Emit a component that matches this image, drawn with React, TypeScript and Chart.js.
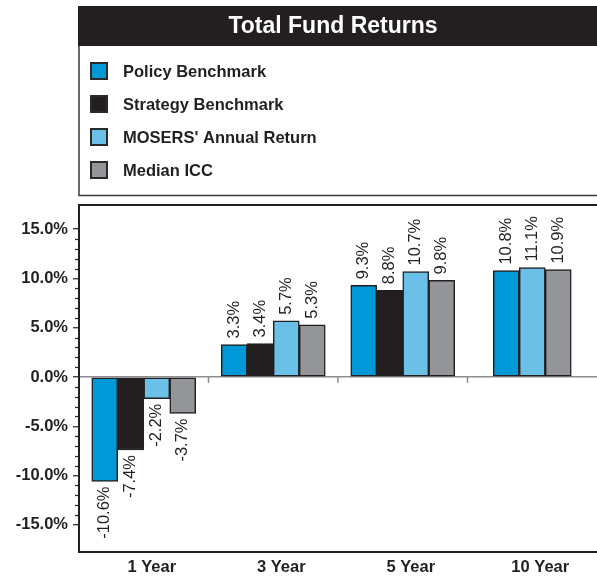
import React, { useEffect, useRef } from "react";
import { Chart, registerables } from "chart.js";

Chart.register(...registerables);

// ---- data ----
const TITLE = "Total Fund Returns";
const categories = ["1 Year", "3 Year", "5 Year", "10 Year"];
const seriesLabels = [
  "Policy Benchmark",
  "Strategy Benchmark",
  "MOSERS' Annual Return",
  "Median ICC",
];
const policyBenchmark = [-10.6, 3.3, 9.3, 10.8];
const strategyBenchmark: (number | null)[] = [-7.4, 3.4, 8.8, null];
const mosersReturn = [-2.2, 5.7, 10.7, 11.1];
const medianICC = [-3.7, 5.3, 9.8, 10.9];
const yTickValues = [-15, -10, -5, 0, 5, 10, 15];
const yMinorRange = [-15, 15];

// ---- style ----
const INK = "#231f20";
const FONT = "'Liberation Sans', Arial, Helvetica, sans-serif";
const seriesColors = ["#0098d6", "#231f20", "#6bc0e8", "#939598"];

const decorPlugin = {
  id: "decor",
  beforeDraw(chart: any) {
    const ctx = chart.ctx as CanvasRenderingContext2D;
    const { left } = chart.chartArea;
    const W = chart.width;
    ctx.save();
    ctx.fillStyle = "#fff";
    ctx.fillRect(0, 0, W, chart.height);
    // title bar
    ctx.fillStyle = INK;
    ctx.fillRect(left - 1, 6, W - left + 1, 40);
    ctx.fillStyle = "#fff";
    ctx.font = `bold 23px ${FONT}`;
    ctx.textAlign = "center";
    ctx.textBaseline = "middle";
    ctx.fillText(TITLE, 333, 27);
    // legend frame
    ctx.strokeStyle = "#3a3a3a";
    ctx.lineWidth = 1.5;
    ctx.beginPath();
    ctx.moveTo(left, 46);
    ctx.lineTo(left, 195.5);
    ctx.lineTo(W, 195.5);
    ctx.stroke();
    // legend items
    chart.data.datasets.forEach((ds: any, i: number) => {
      const cy = 71 + i * 33;
      ctx.fillStyle = ds.backgroundColor;
      ctx.fillRect(91, cy - 8, 16, 16);
      ctx.strokeStyle = "#2a2a2a";
      ctx.lineWidth = 2;
      ctx.strokeRect(91, cy - 8, 16, 16);
      ctx.fillStyle = INK;
      ctx.font = `bold 16.5px ${FONT}`;
      ctx.textAlign = "left";
      ctx.textBaseline = "middle";
      ctx.fillText(ds.label, 123, cy + 1);
    });
    ctx.restore();
  },
  afterDatasetsDraw(chart: any) {
    const ctx = chart.ctx as CanvasRenderingContext2D;
    ctx.save();
    ctx.fillStyle = INK;
    ctx.font = `16.5px ${FONT}`;
    ctx.textBaseline = "middle";
    chart.data.datasets.forEach((ds: any, di: number) => {
      const meta = chart.getDatasetMeta(di);
      meta.data.forEach((el: any, i: number) => {
        const v = ds.data[i];
        if (v === null || v === undefined) return;
        const txt = v.toFixed(1) + "%";
        ctx.save();
        if (v >= 0) {
          ctx.translate(el.x, el.y - 6);
          ctx.rotate(-Math.PI / 2);
          ctx.textAlign = "left";
        } else {
          ctx.translate(el.x, el.y + 5);
          ctx.rotate(-Math.PI / 2);
          ctx.textAlign = "right";
        }
        ctx.fillText(txt, 0, 0);
        ctx.restore();
      });
    });
    ctx.restore();
  },
  afterDraw(chart: any) {
    const ctx = chart.ctx as CanvasRenderingContext2D;
    const { left, top } = chart.chartArea;
    const ys = chart.scales.y;
    const xs = chart.scales.x;
    ctx.save();
    // top frame line
    ctx.strokeStyle = INK;
    ctx.lineWidth = 2;
    ctx.beginPath();
    ctx.moveTo(left - 1, top);
    ctx.lineTo(chart.width, top);
    ctx.stroke();
    // minor y ticks
    ctx.lineWidth = 1.2;
    for (let v = yMinorRange[0]; v <= yMinorRange[1]; v++) {
      if (v % 5 === 0) continue;
      const y = Math.round(ys.getPixelForValue(v)) + 0.5;
      ctx.beginPath();
      ctx.moveTo(left - 4, y);
      ctx.lineTo(left, y);
      ctx.stroke();
    }
    // category separators on zero line
    const y0 = ys.getPixelForValue(0);
    ctx.strokeStyle = "#8c8e90";
    ctx.lineWidth = 1.5;
    for (let i = 1; i < categories.length; i++) {
      const x = (xs.getPixelForValue(i - 1) + xs.getPixelForValue(i)) / 2;
      ctx.beginPath();
      ctx.moveTo(x, y0);
      ctx.lineTo(x, y0 + 6);
      ctx.stroke();
    }
    ctx.restore();
  },
};

export default function App() {
  const ref = useRef<HTMLCanvasElement>(null);
  useEffect(() => {
    if (!ref.current) return;
    const seriesData = [policyBenchmark, strategyBenchmark, mosersReturn, medianICC];
    const chart = new Chart(ref.current, {
      type: "bar",
      data: {
        labels: categories,
        datasets: seriesLabels.map((label, i) => ({
          label,
          data: seriesData[i] as any,
          backgroundColor: seriesColors[i],
          borderColor: INK,
          borderWidth: 1.5,
          borderSkipped: false,
          barThickness: 26,
          skipNull: true,
        })),
      },
      options: {
        animation: false,
        responsive: false,
        devicePixelRatio: 1,
        layout: { padding: { top: 205, left: 0, right: 0, bottom: 0 } },
        plugins: {
          legend: { display: false },
          title: { display: false },
          tooltip: { enabled: false },
        },
        scales: {
          x: {
            afterFit: (s: any) => {
              s.height = 25;
            },
            grid: { display: true, drawOnChartArea: false, drawTicks: false },
            border: { display: true, color: INK, width: 2 },
            ticks: {
              padding: 6,
              labelOffset: 8,
              color: INK,
              maxRotation: 0,
              autoSkip: false,
              font: { family: FONT, size: 16.5, weight: "bold" },
            },
          },
          y: {
            min: -17.75,
            max: 17.45,
            afterBuildTicks: (s: any) => {
              s.ticks = yTickValues.map((v) => ({ value: v }));
            },
            afterFit: (s: any) => {
              s.width = 79;
            },
            grid: {
              drawOnChartArea: true,
              color: (c: any) =>
                c.tick && c.tick.value === 0 ? "#8c8e90" : "rgba(0,0,0,0)",
              lineWidth: 1.5,
              drawTicks: true,
              tickLength: 6,
              tickColor: INK,
              tickWidth: 1.2,
            },
            border: { display: true, color: INK, width: 2 },
            ticks: {
              padding: 5,
              color: INK,
              font: { family: FONT, size: 16.5, weight: "bold" },
              callback: (v: any) => Number(v).toFixed(1) + "%",
            },
          },
        },
      } as any,
      plugins: [decorPlugin],
    });
    return () => chart.destroy();
  }, []);
  return (
    <div
      style={{
        position: "fixed",
        left: 0,
        top: 0,
        width: 597,
        height: 577,
        background: "#fff",
      }}
    >
      <canvas
        ref={ref}
        width={597}
        height={577}
        style={{ display: "block", width: 597, height: 577 }}
      />
    </div>
  );
}
